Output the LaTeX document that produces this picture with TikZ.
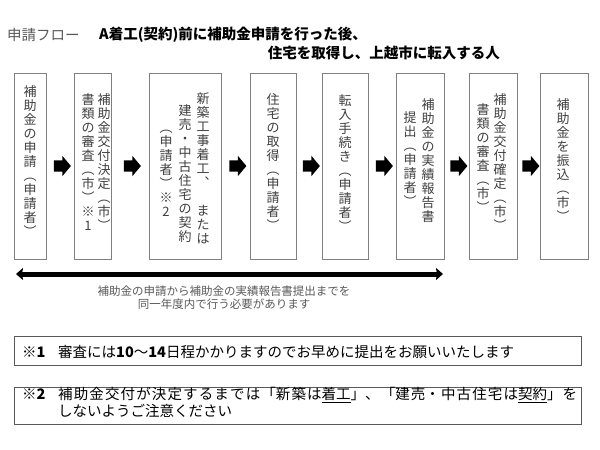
\documentclass[tikz,border=0pt]{standalone}
\usepackage{fontspec}
\setmainfont{Noto Sans CJK JP}
\usetikzlibrary{calc, arrows.meta, shapes.arrows}
\XeTeXlinebreaklocale "ja"
\XeTeXlinebreakskip=0pt plus 1pt
\definecolor{boxgray}{HTML}{7F7F7F}
\definecolor{textgray}{HTML}{3F3F3F}
\definecolor{titlegray}{HTML}{595959}
% stack the characters of a string, one per line
\ExplSyntaxOn
\NewDocumentCommand\tate{m}{\tl_map_inline:nn{#1}{##1\\}}
\ExplSyntaxOff
\tikzset{
    flow/.style={x=1pt, y=-1pt},
    stepbox/.style={draw=boxgray, line width=0.8pt, minimum width=#1, minimum height=186pt, inner sep=0pt},
    tatecol/.style={anchor=north, inner sep=0pt, align=center, text=textgray, font=\fontsize{13}{14}\selectfont},
    blockarrow/.style={single arrow, fill=black, inner sep=0pt, text height=11pt, text depth=0pt,
        minimum height=17pt, single arrow head extend=4.5pt, single arrow tip angle=100},
    notebox/.style={draw=titlegray, line width=0.9pt, anchor=north west, minimum width=567pt, inner sep=0pt},
    notetext/.style={anchor=west, inner sep=0pt, font=\fontsize{14.5}{14.5}\selectfont},
}

\begin{document}
\begin{tikzpicture}[flow]
    \useasboundingbox (0,0) rectangle (600,450);

    % heading
    \node[anchor=west, inner sep=0pt, text=titlegray, font=\fontsize{14.5}{14.5}\selectfont] (flowname) at (7,35) {申請フロー};
    \node[anchor=west, inner sep=0pt, font=\fontsize{14.5}{14.5}\selectfont\bfseries] (head1) at (99,35) {A着工(契約)前に補助金申請を行った後、};
    \node[anchor=east, inner sep=0pt, font=\fontsize{14.5}{14.5}\selectfont\bfseries] (head2) at (500,53) {住宅を取得し、上越市に転入する人};

    % steps
    \node[stepbox=32pt] (b1) at (30,166)  {};
    \node[stepbox=37pt] (b2) at (92.5,166) {};
    \node[stepbox=72pt] (b3) at (185,166) {};
    \node[stepbox=46pt] (b4) at (273,166) {};
    \node[stepbox=46pt] (b5) at (345,166) {};
    \node[stepbox=48pt] (b6) at (420,166) {};
    \node[stepbox=48pt] (b7) at (493,166) {};
    \node[stepbox=48pt] (b8) at (564,166) {};

    \node[tatecol] (t1)  at (30,85)  {\tate{補助金の申請︵申請者︶}};
    \node[tatecol] (t2a) at (104,93) {\tate{補助金交付決定︵市︶}};
    \node[tatecol] (t2b) at (88,93)  {\tate{書類の審査︵市︶※1}};
    \node[tatecol] (t3a) at (203,92) {\tate{新築工事着工︑{\mbox{}}または}};
    \node[tatecol] (t3b) at (185,104) {\tate{建売・中古住宅の契約}};
    \node[tatecol] (t3c) at (166,130) {\tate{︵申請者︶※2}};
    \node[tatecol] (t4)  at (273,93) {\tate{住宅の取得︵申請者︶}};
    \node[tatecol] (t5)  at (345,94) {\tate{転入手続き︵申請者︶}};
    \node[tatecol] (t6a) at (428,98) {\tate{補助金の実績報告書}};
    \node[tatecol] (t6b) at (410,111) {\tate{提出︵申請者︶}};
    \node[tatecol] (t7a) at (500,93) {\tate{補助金交付確定︵市︶}};
    \node[tatecol] (t7b) at (483,103) {\tate{書類の審査︵市︶}};
    \node[tatecol] (t8)  at (563,98) {\tate{補助金を振込︵市︶}};

    \foreach \a/\b in {b1/b2, b2/b3, b3/b4, b4/b5, b5/b6, b6/b7, b7/b8}
        \node[blockarrow] at ($(\a.east)!0.5!(\b.west)$) {};

    % one fiscal year
    \coordinate (spanL) at (16,274);
    \coordinate (spanR) at (443,274);
    \draw[line width=5pt, {Stealth[length=7pt, width=12pt, inset=1pt]}-{Stealth[length=7pt, width=12pt, inset=1pt]}] (spanL) -- (spanR);
    \node[align=center, inner sep=0pt, text=titlegray, font=\fontsize{11.5}{13}\selectfont] (spannote) at (224,297.5)
        {補助金の申請から補助金の実績報告書提出までを\\同一年度内で行う必要があります};

    % notes
    \node[notebox, minimum height=29pt] (note1) at (14,336) {};
    \node[notetext] (mark1) at (22,352) {※\textbf{1}};
    \node[notetext] (text1) at (58,352) {審査には\textbf{10}〜\textbf{14}日程かかりますのでお早めに提出をお願いいたします};

    \node[notebox, minimum height=37pt] (note2) at (14,387) {};
    \node[notetext] (mark2) at (22,394) {※\textbf{2}};
    \node[notetext, anchor=north west, text width=519pt, align=justify] (text2) at (58,387.5)
        {補助金交付が決定するまでは「新築は\underline{着工}」、「建売・中古住宅は\underline{契約}」を\linebreak しないようご注意ください};
\end{tikzpicture}
\end{document}
